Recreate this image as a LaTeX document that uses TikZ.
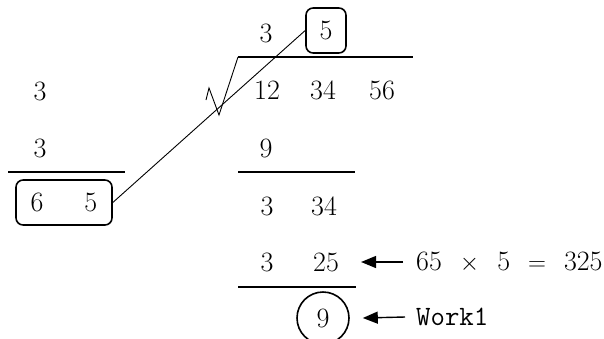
\documentclass[tikz,border=0pt]{standalone}
\usetikzlibrary{arrows.meta}
\tikzset{
  num/.style={inner sep=2pt, font=\fontsize{28}{32}\selectfont},
  roundbox/.style={num, draw, line width=1.6pt, rounded corners=2.5mm},
  rule/.style={line width=1.8pt},
  pointer/.style={line width=1.4pt, -{Triangle[length=15pt,width=12pt]}},
}
\begin{document}
\begin{tikzpicture}[x=1pt,y=-1pt]
\useasboundingbox (0,0) rectangle (604,338);
% left column
\node[num] (l1) at (40,91) {3};
\node[num] (l2) at (40,148) {3};
\draw[rule] (8,172) -- (125,172);
\node[roundbox, minimum width=96pt, minimum height=45pt] (twice) at (64,202.5) {6\hspace{41pt}5};

% quotient on top
\node[num] (q1) at (266,33) {3};
\node[roundbox, minimum width=40pt, minimum height=45pt] (q2) at (326,30.5) {5};

% radical sign
\draw[line width=0.9pt] (206,100) -- (209,88) -- (219,115) -- (238,57);
\draw[rule] (238,57) -- (413,57);

% radicand
\node[num] (a1) at (267,90) {12};
\node[num] (a2) at (323,90) {34};
\node[num] (a3) at (382,90) {56};

% subtraction steps
\node[num] (s1) at (266,148) {9};
\draw[rule] (238,172) -- (355,172);
\node[num] (r1) at (267,206) {3};
\node[num] (r2) at (324,206) {34};
\node[num] (p1) at (267,262) {3};
\node[num] (p2) at (326,262) {25};
\draw[rule] (238,287) -- (356,287);
\node[num, draw, circle, line width=1.6pt, minimum size=52pt] (rest) at (323,318) {9};

% notes on the right
\node[num, anchor=west] (prod) at (414,262) {65\hspace{18pt}$\times$\hspace{18pt}5\hspace{18pt}$=$\hspace{18pt}325};
\node[num, anchor=west, font=\fontsize{28}{32}\selectfont\ttfamily] (work) at (414,317) {Work1};

% connectors
\draw[line width=0.9pt] (twice.east) -- (q2.west);
\draw[pointer] ([xshift=-11pt]prod.west) -- ([xshift=20pt]p2.east);
\draw[pointer] ([xshift=-9pt]work.west) -- ([xshift=13pt]rest.east);
\end{tikzpicture}
\end{document}
